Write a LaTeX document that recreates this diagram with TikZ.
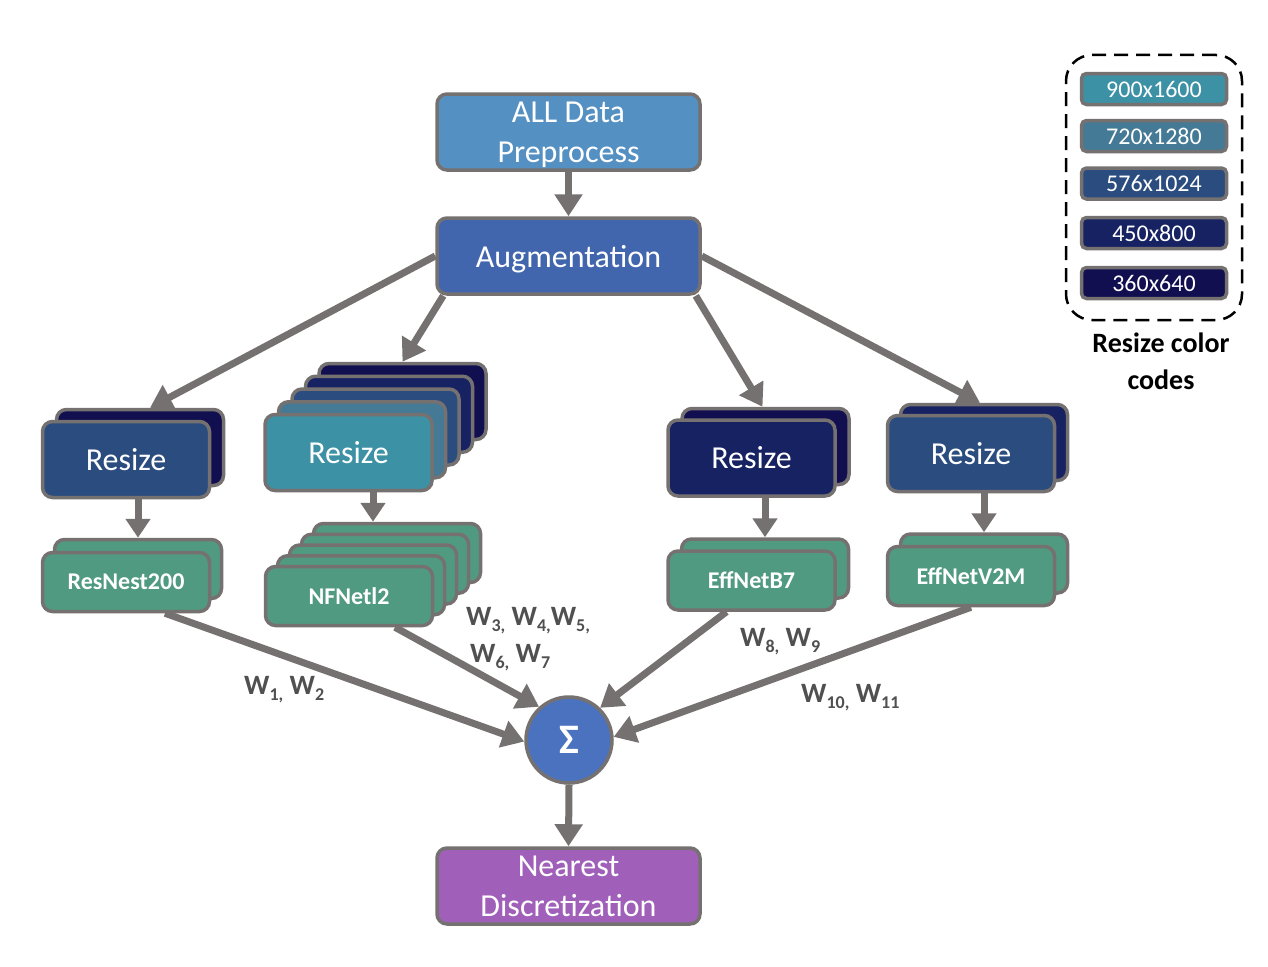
\documentclass[tikz,border=0pt]{standalone}
\usepackage{fontspec}
\setmainfont{Carlito}
\usetikzlibrary{arrows.meta,calc}
\definecolor{bgray}{HTML}{767171}
\definecolor{agray}{HTML}{767171}
\definecolor{wgray}{HTML}{505050}
\definecolor{cpre}{HTML}{5590C3}
\definecolor{caug}{HTML}{4166AD}
\definecolor{csig}{HTML}{4A72BF}
\definecolor{cnear}{HTML}{A060BA}
\definecolor{cgreen}{HTML}{519A82}
\definecolor{cA}{HTML}{3D91A5}
\definecolor{cB}{HTML}{457A96}
\definecolor{cC}{HTML}{2B4C7E}
\definecolor{cD}{HTML}{172263}
\definecolor{cE}{HTML}{110F50}
\newcommand\ws[1]{\raisebox{-6pt}{\fontsize{18}{18}\selectfont #1}}
\begin{document}
\begin{tikzpicture}[x=1pt,y=-1pt,
  bx/.style={draw=bgray,line width=3.5pt,rounded corners=10pt,text=white,align=center,inner sep=0pt},
  big/.style={bx,minimum width=263pt,minimum height=76pt,font=\fontsize{32}{40}\selectfont},
  rsz/.style={bx,minimum width=167pt,minimum height=76pt,font=\fontsize{32}{38}\selectfont},
  mdl/.style={bx,fill=cgreen,minimum width=167pt,minimum height=59pt,font=\bfseries\fontsize{24}{28}\selectfont},
  leg/.style={bx,rounded corners=5pt,minimum width=145pt,minimum height=31pt,font=\fontsize{24}{28}\selectfont},
  arr/.style={draw=agray,line width=7pt,-{Triangle[length=22pt,width=27pt]}},
  arrs/.style={draw=agray,line width=7pt,-{Triangle[length=19pt,width=24pt]}},
  wlab/.style={text=wgray,font=\bfseries\fontsize{28}{32}\selectfont,anchor=base west,inner sep=0pt}]
\fill[white] (0,0) rectangle (1268,966);
\useasboundingbox (0,0) rectangle (1268,966);

% top
\node[big,fill=cpre,text depth=0pt] (pre) at (568.5,132) {ALL Data\\Preprocess};
\node[big,fill=caug,text depth=0pt] (aug) at (568.5,256) {Augmentation};

% resize stacks
\node[rsz,fill=cE] (r1b) at (140,447.5) {};
\node[rsz,fill=cC] (r1) at (126,459.5) {Resize};
\foreach \i/\c in {4/cE,3/cD,2/cC,1/cB}{
  \node[rsz,fill=\c] (rr\i) at ({348.5+13.5*\i},{452.5-12.75*\i}) {};
}
\node[rsz,fill=cA] (rr0) at (348.5,452.5) {Resize};
\node[rsz,fill=cE] (r3b) at (765.5,446.5) {};
\node[rsz,fill=cD] (r3) at (751.5,458) {Resize};
\node[rsz,fill=cD] (r4b) at (984,442.5) {};
\node[rsz,fill=cC] (r4) at (971,453.5) {Resize};

% model stacks
\node[mdl] (m1b) at (138,569) {};
\node[mdl] (m1) at (126,582) {ResNest200};
\foreach \i in {4,3,2,1}{
  \node[mdl] (mm\i) at ({349+12*\i},{596-10.75*\i}) {};
}
\node[mdl] (mm0) at (349,596) {NFNetl2};
\node[mdl] (m3b) at (765,568.5) {};
\node[mdl] (m3) at (751.5,580.5) {EffNetB7};
\node[mdl] (m4b) at (984,563.5) {};
\node[mdl] (m4) at (971,576) {EffNetV2M};

% sum and output
\node[circle,draw=bgray,line width=3.5pt,fill=csig,minimum size=86pt,inner sep=0pt,text=white,font=\bfseries\fontsize{42}{42}\selectfont] (sig) at (569,740) {Σ};
\node[big,fill=cnear] (near) at (568.5,886) {Nearest\\Discretization};

% arrows
\draw[arr] (pre.south) -- (aug.north);
\draw[arr] (aug.west) -- ([xshift=10pt]r1b.north);
\draw[arr] ([xshift=8pt]aug.south west) -- (rr4.north);
\draw[arr] ([xshift=-6pt]aug.south east) -- ([xshift=-3pt]r3b.north);
\draw[arr] (aug.east) -- ([xshift=-4pt]r4b.north);

\draw[arrs] (r1.south -| m1b.north) -- (m1b.north);
\draw[arrs] (rr0.south -| mm2.north) -- (mm2.north |- mm4.north);
\draw[arrs] (r3.south -| m3b.north) -- (m3b.north);
\draw[arrs] (r4.south -| m4b.north) -- (m4b.north);

\draw[arr] ([xshift=39pt]m1.south) -- (sig.182);
\draw[arr] ([xshift=46pt]mm0.south) -- (sig.132);
\draw[arr] ([xshift=-25pt]m3.south) -- (sig.46);
\draw[arr] (m4.south) -- (sig.4);
\draw[arr] (sig.south) -- (near.north);

% weight labels
\node[wlab] (w12) at (244,694) {W\ws{1,} W\ws{2}};
\node[wlab] (w345) at (466,625) {W\ws{3,} W\ws{4,}W\ws{5,}};
\node[wlab] (w67) at (470,662) {W\ws{6,} W\ws{7}};
\node[wlab] (w89) at (740,646) {W\ws{8,} W\ws{9}};
\node[wlab] (w1011) at (801,702) {W\ws{10,} W\ws{11}};

% legend
\node[draw=black,line width=2.5pt,dash pattern=on 14pt off 8pt,rounded corners=26pt,minimum width=176pt,minimum height=265pt,inner sep=0pt] (legend) at (1154,187.5) {};
\node[leg,fill=cA] (l1) at (1154,89) {900x1600};
\node[leg,fill=cB] (l2) at (1154,136) {720x1280};
\node[leg,fill=cC] (l3) at (1154,183.5) {576x1024};
\node[leg,fill=cD] (l4) at (1154,233) {450x800};
\node[leg,fill=cE] (l5) at (1154,283) {360x640};
\node[align=center,inner sep=0pt,font=\bfseries\fontsize{28}{37}\selectfont] (legt) at (1161,361) {Resize color\\codes};
\end{tikzpicture}
\end{document}
